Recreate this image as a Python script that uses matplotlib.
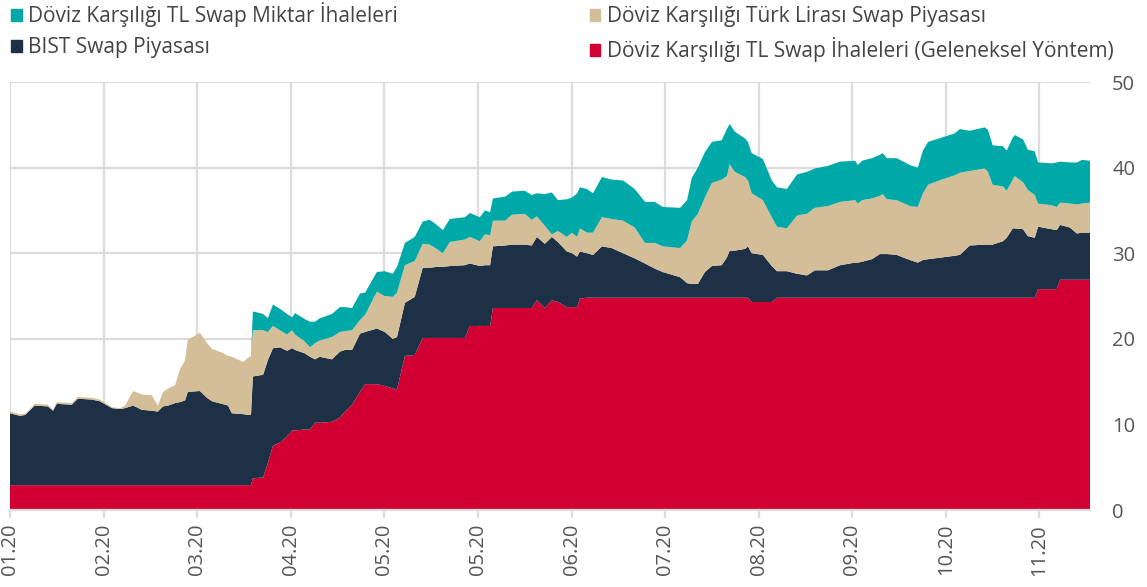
import matplotlib
matplotlib.use('Agg')

import matplotlib.pyplot as plt
from matplotlib.patches import Patch

plt.rcParams['font.family'] = ['Open Sans', 'DejaVu Sans']

# business-day index, Jan 2020 -> Nov 2020
days = [0.0, 2.1, 3.2, 5.3, 8.1, 9.2, 10.0, 13.2, 14.5, 17.5,
        19.2, 21.8, 23.5, 24.6, 26.3, 28.2, 30.3, 31.6, 32.7, 33.8,
        35.3, 36.3, 37.4, 38.0, 40.6, 42.1, 43.2, 45.3, 46.6, 47.4,
        49.8, 50.9, 51.5,
        51.9, 54.1, 55.1, 56.2, 57.7, 59.2, 60.3, 60.9, 63.0, 64.1,
        65.2, 66.2, 68.8, 70.5, 71.6, 73.1, 74.8, 75.9, 78.4, 80.1,
        81.8, 82.7, 84.4, 86.5, 88.2, 89.7, 91.2, 92.5, 94.0, 97.2,
        98.3, 100.4, 101.5, 102.6, 103.2, 105.8, 107.3, 110.0, 111.5, 112.6,
        114.3, 115.8, 117.1, 119.0, 120.1, 121.2, 121.8,
        123.3, 124.6, 126.5, 128.6, 131.0, 133.5, 135.7, 137.8, 139.5, 143.2,
        144.7, 145.7, 147.0, 148.5, 150.0, 152.1, 153.2, 153.8, 154.9, 157.1,
        157.7,
        158.5, 160.9, 162.8,
        163.9, 166.0, 168.2, 170.3, 172.0, 174.8, 177.4, 180.6, 181.2, 182.1,
        184.2, 185.9, 186.5, 187.4, 189.5, 192.3, 194.0, 195.1, 196.2, 199.1,
        201.9, 203.0, 205.1, 208.3, 209.0, 210.0, 212.2, 213.0, 214.3, 214.7,
        216.5, 217.5, 219.0,
        219.7, 222.6, 223.7,
        224.4, 226.5, 228.0, 229.1, 230.8]

# Döviz Karşılığı TL Swap İhaleleri (Geleneksel Yöntem)
geleneksel = [2.9, 2.9, 2.9, 2.9, 2.9, 2.9, 2.9, 2.9, 2.9, 2.9,
              2.9, 2.9, 2.9, 2.9, 2.9, 2.9, 2.9, 2.9, 2.9, 2.9,
              2.9, 2.9, 2.9, 2.9, 2.9, 2.9, 2.9, 2.9, 2.9, 2.9,
              2.9, 2.9, 2.9,
              3.7, 3.8, 5.5, 7.5, 7.9, 8.6, 9.3, 9.3, 9.4, 9.4,
              10.2, 10.2, 10.3, 10.8, 11.5, 12.3, 13.8, 14.7, 14.7, 14.5,
              14.2, 14.1, 18.0, 18.1, 20.1, 20.1, 20.1, 20.1, 20.1, 20.1,
              21.5, 21.5, 21.5, 21.5, 23.6, 23.6, 23.6, 23.6, 23.6, 24.5,
              23.6, 24.5, 24.3, 23.7, 23.7, 23.7, 24.7,
              24.8, 24.8, 24.8, 24.8, 24.8, 24.8, 24.8, 24.8, 24.8, 24.8,
              24.8, 24.8, 24.8, 24.8, 24.8, 24.8, 24.8, 24.8, 24.8, 24.8,
              24.8,
              24.3, 24.3, 24.3,
              24.8, 24.8, 24.8, 24.8, 24.8, 24.8, 24.8, 24.8, 24.8, 24.8,
              24.8, 24.8, 24.8, 24.8, 24.8, 24.8, 24.8, 24.8, 24.8, 24.8,
              24.8, 24.8, 24.8, 24.8, 24.8, 24.8, 24.8, 24.8, 24.8, 24.8,
              24.8, 24.8, 24.8,
              25.8, 25.8, 25.8,
              26.9, 26.9, 26.9, 26.9, 26.9]

# BIST Swap Piyasası
bist = [8.4, 8.1, 8.2, 9.3, 9.2, 8.7, 9.5, 9.4, 10.1, 10.0,
        9.8, 9.0, 8.9, 9.0, 9.3, 8.8, 8.7, 8.6, 9.2, 9.3,
        9.6, 9.7, 9.9, 10.9, 11.0, 10.2, 9.8, 9.5, 9.3, 8.4,
        8.3, 8.2, 8.2,
        11.9, 12.0, 12.0, 11.4, 11.1, 10.0, 9.6, 9.4, 8.9, 8.5,
        7.4, 7.7, 7.3, 7.7, 7.2, 6.4, 6.8, 6.1, 6.5, 6.3,
        5.8, 6.1, 6.2, 6.8, 8.2, 8.2, 8.3, 8.3, 8.4, 8.5,
        7.3, 7.0, 7.1, 7.1, 7.2, 7.3, 7.4, 7.4, 7.3, 7.4,
        7.5, 7.4, 7.0, 6.5, 6.3, 5.9, 5.5,
        5.2, 5.0, 6.0, 5.8, 5.2, 4.6, 4.0, 3.4, 3.0, 2.4,
        1.7, 1.6, 1.6, 3.0, 3.7, 3.8, 4.7, 5.5, 5.5, 5.7,
        6.0,
        5.7, 5.5, 4.2,
        3.1, 3.1, 2.8, 2.6, 3.2, 3.2, 3.8, 4.1, 4.1, 4.2,
        4.5, 5.1, 5.1, 5.1, 5.0, 4.4, 4.1, 4.4, 4.5, 4.7,
        4.9, 5.0, 6.1, 6.2, 6.2, 6.2, 6.6, 7.0, 8.1, 8.1,
        8.0, 7.2, 7.0,
        7.3, 7.0, 6.9,
        6.4, 6.1, 5.4, 5.5, 5.5]

# Döviz Karşılığı Türk Lirası Swap Piyasası
tl_piyasa = [0.2, 0.2, 0.1, 0.2, 0.2, 0.1, 0.2, 0.2, 0.2, 0.2,
             0.2, 0.1, 0.1, 0.3, 1.7, 1.8, 1.8, 0.7, 1.7, 2.0,
             2.1, 3.8, 4.7, 6.1, 6.8, 6.4, 6.1, 6.0, 5.8, 6.6,
             6.1, 6.7, 6.9,
             5.4, 5.2, 3.3, 2.6, 2.0, 1.9, 2.1, 1.8, 1.4, 1.1,
             1.9, 1.9, 2.6, 2.3, 2.2, 2.3, 1.6, 2.0, 4.3, 4.2,
             4.9, 5.2, 4.4, 4.2, 2.8, 2.7, 2.1, 1.6, 2.8, 3.0,
             3.1, 2.9, 3.6, 3.5, 3.0, 2.9, 3.5, 3.6, 3.0, 2.4,
             2.1, 0.3, 1.3, 1.7, 2.4, 2.3, 2.7,
             2.4, 2.6, 3.4, 3.4, 3.8, 3.6, 2.4, 3.0, 3.0, 3.4,
             5.0, 7.3, 8.2, 8.7, 9.7, 10.0, 9.5, 10.1, 9.2, 8.4,
             7.7,
             7.0, 6.4, 5.7,
             5.2, 5.0, 6.8, 7.2, 7.3, 7.5, 7.4, 7.3, 6.9, 7.2,
             7.1, 6.8, 7.0, 6.4, 6.4, 6.3, 6.5, 7.8, 8.7, 9.1,
             9.4, 9.6, 8.7, 8.9, 8.5, 7.0, 6.4, 5.5, 5.7, 6.1,
             5.5, 5.4, 5.0,
             2.7, 2.8, 2.7,
             2.6, 2.8, 3.4, 3.4, 3.5]

# Döviz Karşılığı TL Swap Miktar İhaleleri
miktar = [0, 0, 0, 0, 0, 0, 0, 0, 0, 0,
          0, 0, 0, 0, 0, 0, 0, 0, 0, 0,
          0, 0, 0, 0, 0, 0, 0, 0, 0, 0,
          0, 0, 0,
          2.2, 1.9, 1.6, 2.5, 2.5, 2.4, 1.5, 2.5, 2.6, 3.0,
          2.5, 2.6, 2.7, 2.9, 2.8, 2.6, 3.1, 2.6, 2.3, 2.9,
          2.7, 3.0, 2.6, 2.8, 2.6, 2.9, 2.8, 2.7, 2.7, 2.6,
          2.8, 2.8, 2.8, 2.7, 2.6, 2.8, 2.7, 2.7, 2.9, 2.7,
          3.7, 4.9, 3.6, 4.4, 4.1, 5.1, 4.8,
          5.1, 4.6, 4.7, 4.6, 4.7, 4.5, 4.8, 4.8, 4.6, 4.7,
          4.7, 5.1, 5.4, 5.3, 4.8, 4.6, 5.5, 4.7, 4.7, 4.5,
          4.5,
          4.7, 4.8, 4.3,
          4.6, 4.6, 4.8, 4.9, 4.6, 4.7, 4.7, 4.6, 4.5, 4.6,
          4.7, 4.8, 4.8, 4.8, 4.9, 4.8, 4.6, 5.0, 5.0, 4.9,
          4.9, 5.1, 4.7, 4.8, 4.9, 4.6, 4.7, 4.7, 4.9, 4.8,
          5.0, 4.7, 5.1,
          4.8, 4.9, 5.2,
          4.8, 4.8, 4.9, 5.1, 4.9]

tick_pos = [0, 20, 40, 60, 80, 100, 120, 140, 160, 180, 200, 220]
tick_labels = ['01.20', '02.20', '03.20', '04.20', '05.20', '05.20',
               '06.20', '07.20', '08.20', '09.20', '10.20', '11.20']

c_red = '#D20032'
c_navy = '#1E3046'
c_tan = '#D4BE98'
c_teal = '#00A8A8'
grid_c = '#DCDCDC'
txt_c = '#555555'

fig = plt.figure(figsize=(11.47, 5.87), dpi=100)
ax = fig.add_axes([10 / 1147, 77 / 587, 1080 / 1147, 428 / 587])

ax.stackplot(days, geleneksel, bist, tl_piyasa, miktar,
             colors=[c_red, c_navy, c_tan, c_teal], linewidth=0)

ax.set_xlim(0, 230.8)
ax.set_ylim(0, 50)
ax.set_axisbelow(True)
ax.grid(True, color=grid_c, linewidth=1.6)

ax.set_xticks(tick_pos)
ax.set_xticklabels(tick_labels, rotation=90, fontsize=14.5, color=txt_c)
ax.set_yticks([0, 10, 20, 30, 40, 50])
ax.yaxis.tick_right()
ax.tick_params(axis='y', length=0, pad=16, labelsize=14.5, labelcolor=txt_c)
ax.tick_params(axis='x', length=6, width=1.6, color=grid_c, pad=4)

for s in ['top', 'left', 'right']:
    ax.spines[s].set_visible(False)
ax.spines['bottom'].set_color(grid_c)
ax.spines['bottom'].set_linewidth(1.6)

handles = [Patch(color=c_teal), Patch(color=c_navy), Patch(color=c_tan), Patch(color=c_red)]
labels = ['Döviz Karşılığı TL Swap Miktar İhaleleri', 'BIST Swap Piyasası',
          'Döviz Karşılığı Türk Lirası Swap Piyasası',
          'Döviz Karşılığı TL Swap İhaleleri (Geleneksel Yöntem)']
fig.legend(handles, labels, ncol=2, loc='upper left', bbox_to_anchor=(11 / 1147, 1 - 2 / 587),
           frameon=False, fontsize=15, handlelength=0.52, handleheight=0.52,
           handletextpad=0.3, columnspacing=9.2, labelspacing=0.5,
           borderpad=0, borderaxespad=0, labelcolor='#444444')

fig.savefig('out.png', dpi=100)
